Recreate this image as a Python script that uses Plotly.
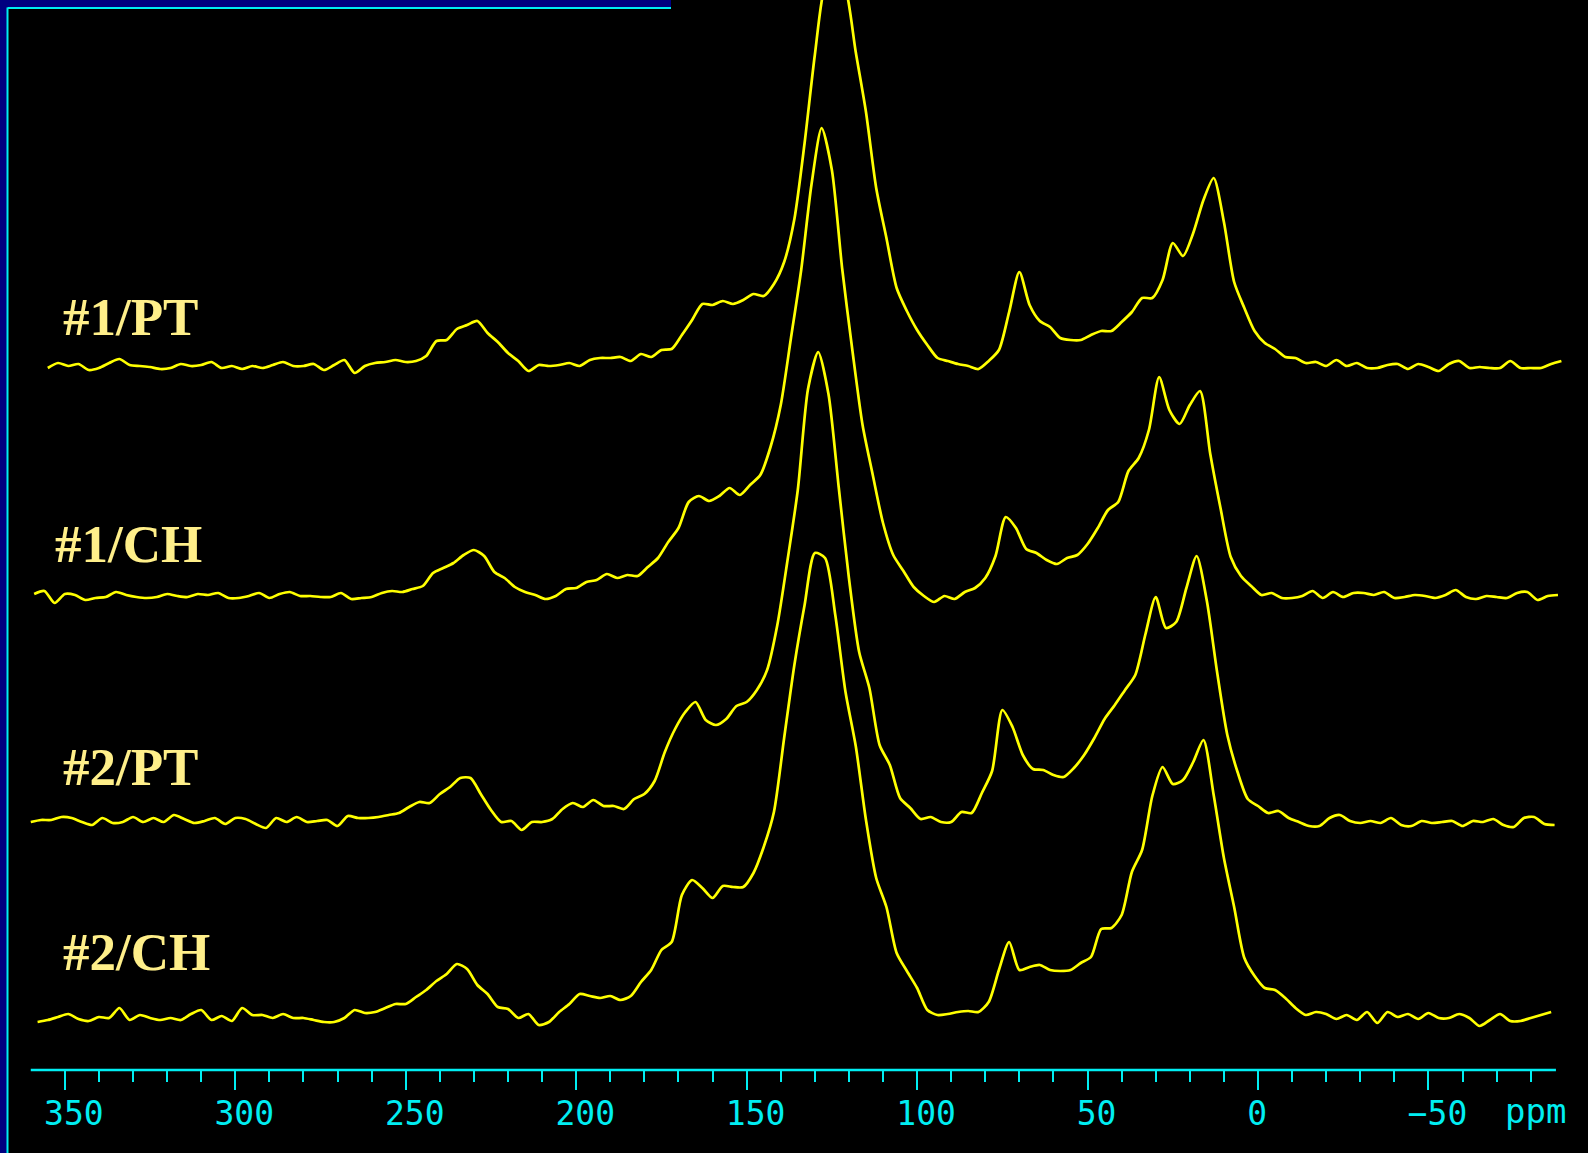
import plotly.graph_objects as go

# ---- data (intensity above each trace's own baseline, arbitrary units) ----
STEP = -3  # ppm spacing of the samples

pt1_start = 355
pt1_vals = [-4, 1, -2, 0, -6, -4, 1, 5, -1, -2,
            -3, -5, -4, 0, -2, -1, 2, -4, -2, -5,
            -2, -4, -1, 2, -2, -2, 0, -6, -1, 4,
            -9, -2, 1, 2, 4, 2, 3, 8, 23, 24,
            35, 39, 43, 31, 22, 11, 3, -7, -1, -2,
            -1, 1, -2, 4, 6, 6, 7, 3, 10, 7,
            14, 15, 29, 44, 60, 59, 63, 60, 64, 70,
            68, 80, 102, 145, 221, 309, 379, 394, 376, 312,
            252, 176, 126, 76, 53, 34, 19, 6, 3, 0,
            -2, -5, 3, 14, 52, 92, 59, 43, 37, 26,
            24, 24, 29, 33, 33, 42, 52, 66, 66, 84,
            121, 108, 131, 164, 186, 142, 82, 56, 33, 21,
            15, 7, 6, 1, 2, -2, 4, -2, 1, -4,
            -4, -1, 0, -5, 0, -3, -7, 0, 3, -4,
            -3, -4, -4, 3, -4, -4, -4, 0, 3]

ch1_start = 359
ch1_vals = [0, 3, -9, 0, -1, -6, -4, -3, 2, -1,
            -3, -4, -3, 0, -2, -3, 0, -1, 1, -4,
            -4, -2, 1, -4, 0, 2, -2, -2, -3, -3,
            1, -5, -4, -3, 1, 3, 2, 5, 8, 21,
            26, 31, 39, 44, 38, 22, 16, 7, 2, -1,
            -5, -2, 5, 6, 12, 14, 20, 16, 19, 18,
            27, 36, 52, 66, 92, 98, 93, 98, 106, 99,
            109, 119, 147, 189, 256, 324, 409, 466, 424, 326,
            244, 169, 119, 71, 39, 23, 7, -2, -8, -2,
            -5, 2, 6, 16, 38, 77, 66, 45, 41, 34,
            30, 36, 39, 50, 66, 84, 92, 123, 136, 164,
            217, 184, 170, 189, 203, 140, 86, 37, 18, 8,
            -1, 1, -4, -4, -2, 3, -4, 2, -3, 1,
            1, -1, 2, -4, -3, -1, -2, -4, -1, 4,
            -3, -5, -2, -3, -4, 1, 2, -6, -2, -1]

pt2_start = 360
pt2_vals = [-3, -1, -1, 2, 1, -3, -6, 1, -4, -3,
            2, -3, 1, -3, 4, 0, -4, -2, 1, -5,
            1, 0, -5, -9, 1, -3, 2, -3, -2, -1,
            -7, 3, 1, 1, 2, 4, 6, 12, 17, 16,
            25, 32, 41, 41, 25, 9, -3, -2, -11, -3,
            -3, 0, 10, 16, 12, 19, 13, 13, 10, 20,
            25, 38, 67, 90, 107, 117, 99, 94, 100, 113,
            117, 129, 149, 194, 259, 329, 430, 467, 425, 332,
            241, 167, 131, 74, 54, 21, 11, 0, 2, -3,
            -3, 7, 6, 26, 48, 109, 92, 64, 50, 49,
            44, 42, 51, 64, 81, 100, 114, 129, 144, 185,
            222, 191, 197, 231, 263, 218, 147, 84, 47, 20,
            13, 6, 8, 1, -3, -7, -7, 1, 4, -2,
            -4, -2, -4, 1, -6, -7, -2, -4, -3, -2,
            -7, -2, -3, 0, -6, -8, 1, 2, -5, -6]

ch2_start = 358
ch2_vals = [-6, -4, -1, 2, -3, -5, -1, -2, 8, -4,
            1, -2, -4, -2, -4, 2, 6, -4, 0, -5,
            8, 1, 1, -2, 2, -2, -2, -4, -6, -6,
            -2, 6, 3, 4, 8, 12, 12, 19, 26, 35,
            42, 52, 47, 31, 22, 9, 7, -2, 2, -9,
            -6, 4, 12, 22, 20, 18, 20, 16, 20, 34,
            46, 66, 74, 121, 136, 128, 118, 130, 129, 129,
            143, 169, 204, 278, 351, 411, 463, 458, 401, 324,
            270, 196, 138, 109, 63, 45, 28, 6, 1, 2,
            4, 5, 4, 14, 46, 74, 46, 49, 51, 46,
            45, 46, 53, 59, 87, 88, 101, 144, 166, 220,
            249, 232, 236, 254, 276, 221, 158, 109, 58, 40,
            28, 26, 18, 8, 1, 4, 2, -3, 1, -4,
            4, -7, 4, -1, 2, -3, 3, -2, -2, 2,
            -2, -10, -4, 2, -5, -5, -2, 1, 4]

labels = ["#1/PT", "#1/CH", "#2/PT", "#2/CH"]
starts = [pt1_start, ch1_start, pt2_start, ch2_start]
series = [pt1_vals, ch1_vals, pt2_vals, ch2_vals]
offsets = [706, 476, 251, 54]          # vertical stacking offsets

major_ticks = [350, 300, 250, 200, 150, 100, 50, 0, -50]
major_text = ["350", "300", "250", "200", "150", "100", "50", "0\u00a0", "\u221250"]
minor_ticks = [v for v in range(340, -90, -10) if v % 50 != 0]

# ---- styling ----
W, H = 1588, 1153
PLOT_H = 1070
CYAN = "#00EEF2"
NAVY = "#000080"
YELLOW = "#FFFF00"
LABEL = "#FFEF8A"

fig = go.Figure()
for name, s0, vals, off in zip(labels, starts, series, offsets):
    x = [s0 + STEP * i for i in range(len(vals))]
    y = [off + v for v in vals]
    fig.add_trace(go.Scatter(x=x, y=y, mode="lines", name=name,
                             line=dict(color=YELLOW, width=2.7, shape="spline", smoothing=0.7),
                             hoverinfo="skip", showlegend=False))

label_pos = [(61, 317), (53, 544), (61, 767), (61, 952)]
for name, (px, py) in zip(labels, label_pos):
    fig.add_annotation(text=name, xref="paper", yref="paper",
                       x=px / W, y=(PLOT_H - py) / PLOT_H, xanchor="left", yanchor="middle",
                       showarrow=False,
                       font=dict(family="Liberation Serif", size=53, color=LABEL, weight="bold"))

fig.add_annotation(text="ppm", xref="paper", yref="paper", x=1535 / W, y=(PLOT_H - 1111) / PLOT_H,
                   xanchor="center", yanchor="middle", showarrow=False,
                   font=dict(family="DejaVu Sans Mono", size=34, color=CYAN))

# axis baseline
fig.add_shape(type="line", xref="x", yref="paper", x0=360, x1=-87.4, y0=0, y1=0,
              line=dict(color=CYAN, width=2.5))

# frame: navy strips + cyan border lines
fig.add_shape(type="rect", xref="paper", yref="paper", x0=0, x1=7 / W,
              y0=-(H - PLOT_H) / PLOT_H, y1=1, fillcolor=NAVY, line_width=0, layer="above")
fig.add_shape(type="rect", xref="paper", yref="paper", x0=0, x1=671 / W,
              y0=(PLOT_H - 7) / PLOT_H, y1=1, fillcolor=NAVY, line_width=0, layer="above")
fig.add_shape(type="line", xref="paper", yref="paper", x0=7.5 / W, x1=7.5 / W,
              y0=-(H - PLOT_H) / PLOT_H, y1=(PLOT_H - 7.5) / PLOT_H,
              line=dict(color=CYAN, width=2), layer="above")
fig.add_shape(type="line", xref="paper", yref="paper", x0=7.5 / W, x1=671 / W,
              y0=(PLOT_H - 8) / PLOT_H, y1=(PLOT_H - 8) / PLOT_H,
              line=dict(color=CYAN, width=2), layer="above")

ppm_left = 1258 / 3.409
ppm_right = (1258 - W) / 3.409

fig.update_layout(
    width=W, height=H,
    margin=dict(l=0, r=0, t=0, b=H - PLOT_H, pad=0),
    paper_bgcolor="black", plot_bgcolor="black",
    xaxis=dict(range=[ppm_left, ppm_right], showgrid=False, zeroline=False, showline=False,
               tickmode="array", tickvals=major_ticks, ticktext=major_text,
               ticks="outside", ticklen=19, tickwidth=2, tickcolor=CYAN,
               ticklabelshift=-9, ticklabelstandoff=-5,
               tickfont=dict(family="DejaVu Sans Mono", size=33, color=CYAN),
               minor=dict(tickmode="array", tickvals=minor_ticks, ticks="outside",
                          ticklen=11, tickwidth=2, tickcolor=CYAN, showgrid=False),
               fixedrange=True),
    yaxis=dict(range=[0, PLOT_H], visible=False, fixedrange=True),
)

fig.write_html("out.html", config={"displayModeBar": False},
               post_script="document.body.style.margin='0';document.body.style.padding='0';"
                           "document.body.style.background='black';"
                           "document.documentElement.style.overflow='hidden';")
